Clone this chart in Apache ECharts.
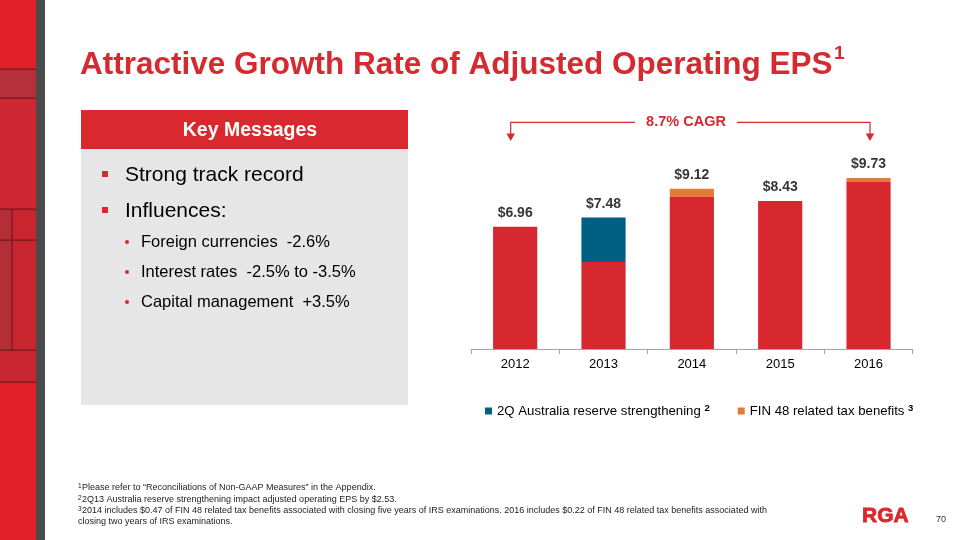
<!DOCTYPE html>
<html>
<head>
<meta charset="utf-8">
<script src="https://cdn.jsdelivr.net/npm/echarts@6/dist/echarts.min.js"></script>
<style>
html,body{margin:0;padding:0;background:#fff;}
#chart{width:960px;height:540px;}
</style>
</head>
<body>
<div id="chart"></div>
<script>
// ---- data ----
const years = ['2012', '2013', '2014', '2015', '2016'];
const baseEPS = [6.96, 4.95, 8.65, 8.43, 9.51];
const australiaReserve = [null, 2.53, null, null, null];
const fin48Benefits = [null, null, 0.47, null, 0.22];
const totalEPS = [6.96, 7.48, 9.12, 8.43, 9.73];
const totalLabels = ['$6.96', '$7.48', '$9.12', '$8.43', '$9.73'];
const legendNames = ['2Q Australia reserve strengthening', 'FIN 48 related tax benefits'];
const legendSup = ['2', '3'];
const cagrText = '8.7% CAGR';
const titleText = 'Attractive Growth Rate of Adjusted Operating EPS';
const keyHeader = 'Key Messages';
const mainBullets = ['Strong track record', 'Influences:'];
const subBullets = ['Foreign currencies  -2.6%', 'Interest rates  -2.5% to -3.5%', 'Capital management  +3.5%'];
const footnotes = [
  ['1', 'Please refer to \u201cReconciliations of Non-GAAP Measures\u201d in the Appendix.'],
  ['2', '2Q13 Australia reserve strengthening impact adjusted operating EPS by $2.53.'],
  ['3', '2014 includes $0.47 of FIN 48 related tax benefits associated with closing five years of IRS examinations. 2016 includes $0.22 of FIN 48 related tax benefits associated with'],
  ['', 'closing two years of IRS examinations.']
];

const FONT = '"Liberation Sans", Arial, Helvetica, sans-serif';
const RED = '#d7282f';
const TITLE_RED = '#d42a30';
const BLUE = '#005f83';
const ORANGE = '#e07b39';

const chart = echarts.init(document.getElementById('chart'));

const g = [];
// left decorative strip
g.push({type:'rect', shape:{x:0,y:0,width:36,height:540}, style:{fill:'#e2202a'}});
g.push({type:'rect', shape:{x:0,y:69,width:36,height:29}, style:{fill:'#b4303a'}});
g.push({type:'rect', shape:{x:0,y:98,width:36,height:111}, style:{fill:'#cf2731'}});
g.push({type:'rect', shape:{x:0,y:209,width:12,height:141}, style:{fill:'#b52d37'}});
g.push({type:'rect', shape:{x:12,y:209,width:24,height:141}, style:{fill:'#c8252f'}});
g.push({type:'rect', shape:{x:0,y:350,width:36,height:32}, style:{fill:'#c92530'}});
[69, 98, 209, 240, 350, 382].forEach(y => g.push({type:'rect', shape:{x:0,y:y-0.5,width:36,height:1.2}, style:{fill:'#6e1a1f'}}));
g.push({type:'rect', shape:{x:11.5,y:209,width:1.2,height:141}, style:{fill:'#6e1a1f'}});
g.push({type:'rect', shape:{x:36,y:0,width:9,height:540}, style:{fill:'#4a4a4a'}});

// title
g.push({type:'text', style:{text:titleText, x:80, y:65, font:'bold 31.5px ' + FONT, fill:TITLE_RED, verticalAlign:'middle'}});
g.push({type:'text', style:{text:'1', x:834, y:54, font:'bold 19px ' + FONT, fill:TITLE_RED, verticalAlign:'middle'}});

// key messages panel
g.push({type:'rect', shape:{x:81,y:148,width:327,height:257}, style:{fill:'#e6e6e6'}});
g.push({type:'rect', shape:{x:81,y:110,width:327,height:39}, style:{fill:'#d9292f'}});
g.push({type:'text', style:{text:keyHeader, x:250, y:131, font:'bold 19.5px ' + FONT, fill:'#ffffff', align:'center', verticalAlign:'middle'}});
const mainY = [175, 211];
mainBullets.forEach((t, i) => {
  g.push({type:'rect', shape:{x:102,y:mainY[i]-4,width:6,height:6}, style:{fill:'#d9292f'}});
  g.push({type:'text', style:{text:t, x:125, y:mainY[i], font:'21px ' + FONT, fill:'#000', verticalAlign:'middle'}});
});
const subY = [242, 272, 302];
subBullets.forEach((t, i) => {
  g.push({type:'circle', shape:{cx:127, cy:subY[i], r:2}, style:{fill:'#d9292f'}});
  g.push({type:'text', style:{text:t, x:141, y:subY[i], font:'16.5px ' + FONT, fill:'#000', verticalAlign:'middle'}});
});

// CAGR annotation
g.push({type:'polyline', shape:{points:[[510.7,135],[510.7,122.3],[635,122.3]]}, style:{stroke:'#d42a30', lineWidth:1.2, fill:null}});
g.push({type:'polyline', shape:{points:[[737,122.3],[870,122.3],[870,135]]}, style:{stroke:'#d42a30', lineWidth:1.2, fill:null}});
g.push({type:'polygon', shape:{points:[[506.5,133.5],[515,133.5],[510.7,141]]}, style:{fill:'#d42a30'}});
g.push({type:'polygon', shape:{points:[[865.8,133.5],[874.2,133.5],[870,141]]}, style:{fill:'#d42a30'}});
g.push({type:'text', style:{text:cagrText, x:686, y:122, font:'bold 14.5px ' + FONT, fill:'#d42a30', align:'center', verticalAlign:'middle'}});

// footnotes
const footY = [488, 500, 511, 522];
footnotes.forEach((f, i) => {
  if (f[0]) g.push({type:'text', style:{text:f[0], x:78, y:footY[i]-2, font:'6.5px ' + FONT, fill:'#222', verticalAlign:'middle'}});
  g.push({type:'text', x:f[0] ? 82 : 78, y:footY[i], style:{text:f[1], x:0, y:0, font:'9px ' + FONT, fill:'#222', verticalAlign:'middle'}});
});

// logo + page number
g.push({type:'text', style:{text:'RGA', x:862, y:516, font:'bold 21px ' + FONT, fill:'#d9292f', stroke:'#d9292f', lineWidth:0.8, verticalAlign:'middle'}});
g.push({type:'text', style:{text:'70', x:936, y:520, font:'9px ' + FONT, fill:'#333', verticalAlign:'middle'}});

const option = {
  animation: false,
  backgroundColor: '#ffffff',
  textStyle: {fontFamily: FONT},
  grid: {left: 471, right: 47.3, top: 138.2, bottom: 191, containLabel: false},
  xAxis: {
    type: 'category',
    data: years,
    axisLine: {show: true, lineStyle: {color: '#a6a6a6', width: 1}},
    axisTick: {show: true, length: 5, lineStyle: {color: '#a6a6a6'}},
    axisLabel: {color: '#000', fontSize: 13, margin: 9, fontFamily: FONT}
  },
  yAxis: {type: 'value', min: 0, max: 12, show: false, splitLine: {show: false}},
  legend: {
    data: legendNames,
    left: 480, top: 398,
    icon: 'rect', itemWidth: 7, itemHeight: 7, itemGap: 28, itemTextGap: 4,
    textStyle: {
      color: '#000', fontSize: 13.2, fontFamily: FONT, lineHeight: 16,
      rich: {s: {fontSize: 9.5, fontWeight: 'bold', color: '#000', verticalAlign: 'top', lineHeight: 10}}
    },
    formatter: name => name + ' {s|' + legendSup[legendNames.indexOf(name)] + '}'
  },
  series: [
    {name: 'Adjusted operating EPS', type: 'bar', stack: 'eps', data: baseEPS, barWidth: '50%', itemStyle: {color: RED}},
    {name: legendNames[0], type: 'bar', stack: 'eps', data: australiaReserve, itemStyle: {color: BLUE}},
    {name: legendNames[1], type: 'bar', stack: 'eps', data: fin48Benefits, itemStyle: {color: ORANGE}},
    {
      name: 'Total', type: 'scatter', data: totalEPS, symbolSize: 1, itemStyle: {color: 'rgba(0,0,0,0)'},
      silent: true,
      label: {show: true, position: 'top', distance: 6, formatter: p => totalLabels[p.dataIndex],
        color: '#000', fontSize: 14, fontWeight: 'bold', fontFamily: FONT}
    }
  ],
  graphic: g
};
chart.setOption(option);
</script>
</body>
</html>
